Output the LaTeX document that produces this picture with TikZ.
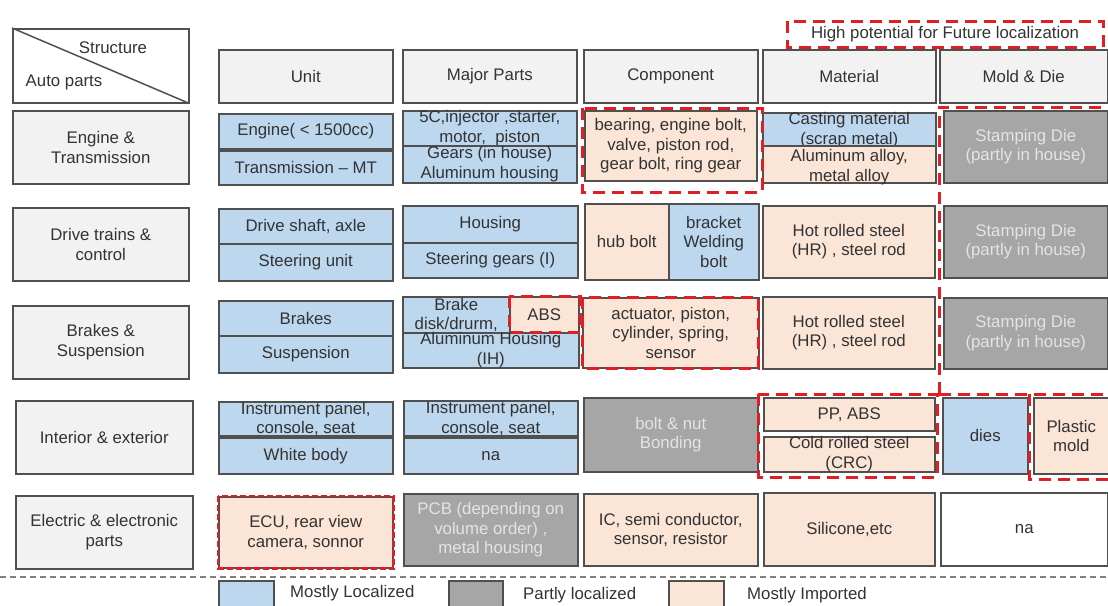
\documentclass[tikz,border=0pt]{standalone}
\usepackage{fontspec}
\setmainfont{Liberation Sans}
\definecolor{boxline}{HTML}{505050}
\definecolor{txt}{HTML}{333333}
\definecolor{hdrfill}{HTML}{F2F2F2}
\definecolor{locfill}{HTML}{BDD7EE}
\definecolor{impfill}{HTML}{FBE5D6}
\definecolor{partfill}{HTML}{A6A6A6}
\definecolor{parttxt}{HTML}{E4E4E4}
\definecolor{hpred}{RGB}{225,30,35}
\definecolor{sepgray}{HTML}{808080}
% one table cell: style, left, top, right, bottom (in px), name; the text follows
\newcommand\cellbox[6]{\node[#1,minimum width={(#4-#2)*1pt},minimum height={(#5-#3)*1pt}] (#6) at (#2,#3)}
\begin{document}
\begin{tikzpicture}[x=1pt,y=-1pt,
  cellbase/.style={draw=boxline, line width=1.5pt, inner sep=0pt, align=center,
    text=txt, font=\fontsize{16.8pt}{19.5pt}\selectfont, anchor=north west},
  hdr/.style={cellbase, fill=hdrfill},
  loc/.style={cellbase, fill=locfill},
  imp/.style={cellbase, fill=impfill},
  part/.style={cellbase, fill=partfill, text=parttxt},
  plain/.style={cellbase, fill=white},
  txtonly/.style={inner sep=0pt, text=txt, align=center, font=\fontsize{16.8pt}{19.5pt}\selectfont},
  hp/.style={draw=hpred, line width=3pt, dash pattern=on 12pt off 7pt},
  hpthin/.style={draw=hpred, line width=2.2pt, dash pattern=on 6pt off 3pt},
  sep/.style={draw=sepgray, line width=1.5pt, dash pattern=on 6pt off 4pt},
]
\useasboundingbox (0,0) rectangle (1108,605);
\clip (0,0) rectangle (1108,605);

% ---- header row ----
\cellbox{plain}{12}{28}{188}{102}{corner} {};
\draw[boxline, line width=1.5pt] (corner.north west) -- (corner.south east);
\node[txtonly] (structure) at (113,48) {Structure};
\node[txtonly] (autoparts) at (64,82) {Auto parts};
\cellbox{hdr}{218}{49}{392}{102}{hunit} {Unit};
\cellbox{hdr}{402}{49}{576}{102}{hmajor} {Major Parts};
\cellbox{hdr}{583}{49}{757}{102}{hcomp} {Component};
\cellbox{hdr}{762}{49}{935}{102}{hmat} {Material};
\cellbox{hdr}{939}{49}{1107}{102}{hmold} {Mold \& Die};
\node[txtonly] (hptext) at (945,34) {High potential for Future localization};

% ---- engine & transmission ----
\cellbox{hdr}{12}{110}{188}{183}{lab1} {Engine \&\\Transmission};
\cellbox{loc}{218}{113}{392}{148}{u1a} {Engine( < 1500cc)};
\cellbox{loc}{218}{150}{392}{184}{u1b} {Transmission -- MT};
\cellbox{loc}{402}{110}{576}{145}{m1a} {5C,injector ,starter,\\motor,\ \ piston};
\cellbox{loc}{402}{145}{576}{182}{m1b} {Gears (in house)\\Aluminum housing};
\cellbox{imp}{584}{110}{756}{180}{c1} {bearing, engine bolt,\\valve, piston rod,\\gear bolt, ring gear};
\cellbox{loc}{762}{112}{935}{145}{t1a} {Casting material\\(scrap metal)};
\cellbox{imp}{762}{145}{935}{182}{t1b} {};
\node[txtonly, yshift=-3pt] (t1btext) at (t1b.center) {Aluminum alloy,\\metal alloy};
\cellbox{part}{943}{110}{1107}{182}{d1} {Stamping Die\\(partly in house)};

% ---- drive trains & control ----
\cellbox{hdr}{12}{207}{188}{280}{lab2} {Drive trains \&\\control};
\cellbox{loc}{218}{208}{392}{243}{u2a} {Drive shaft, axle};
\cellbox{loc}{218}{243}{392}{280}{u2b} {Steering unit};
\cellbox{loc}{402}{205}{577}{242}{m2a} {Housing};
\cellbox{loc}{402}{242}{577}{277}{m2b} {Steering gears (I)};
\cellbox{imp}{584}{203}{668}{279}{c2a} {hub bolt};
\cellbox{loc}{668}{203}{758}{279}{c2b} {bracket\\Welding\\bolt};
\cellbox{imp}{762}{205}{934}{277}{t2} {Hot rolled steel\\(HR) , steel rod};
\cellbox{part}{943}{205}{1107}{277}{d2} {Stamping Die\\(partly in house)};

% ---- brakes & suspension ----
\cellbox{hdr}{12}{305}{188}{378}{lab3} {Brakes \&\\Suspension};
\cellbox{loc}{218}{300}{392}{335}{u3a} {Brakes};
\cellbox{loc}{218}{335}{392}{372}{u3b} {Suspension};
\cellbox{loc}{402}{296}{509}{332}{m3a} {Brake\\disk/drurm,};
\cellbox{imp}{509}{296}{578}{332}{m3b} {ABS};
\cellbox{loc}{402}{332}{578}{367}{m3c} {Aluminum Housing\\(IH)};
\cellbox{imp}{582}{297}{758}{367}{c3} {actuator, piston,\\cylinder, spring,\\sensor};
\cellbox{imp}{762}{296}{934}{368}{t3} {Hot rolled steel\\(HR) , steel rod};
\cellbox{part}{943}{297}{1107}{368}{d3} {Stamping Die\\(partly in house)};

% ---- interior & exterior ----
\cellbox{hdr}{15}{400}{192}{473}{lab4} {Interior \& exterior};
\cellbox{loc}{218}{401}{392}{435}{u4a} {Instrument panel,\\console, seat};
\cellbox{loc}{218}{437}{392}{473}{u4b} {White body};
\cellbox{loc}{403}{400}{577}{435}{m4a} {Instrument panel,\\console, seat};
\cellbox{loc}{403}{437}{577}{473}{m4b} {na};
\cellbox{part}{583}{397}{757}{471}{c4} {bolt \& nut\\Bonding};
\cellbox{imp}{763}{397}{934}{430}{t4a} {PP, ABS};
\cellbox{imp}{763}{436}{934}{470}{t4b} {Cold rolled steel\\(CRC)};
\cellbox{loc}{942}{397}{1027}{473}{d4a} {dies};
\cellbox{imp}{1033}{397}{1108}{473}{d4b} {Plastic\\mold};

% ---- electric & electronic parts ----
\cellbox{hdr}{15}{495}{192}{568}{lab5} {Electric \& electronic\\parts};
\cellbox{imp}{218}{496}{392}{567}{u5} {ECU, rear view\\camera, sonnor};
\cellbox{part}{403}{493}{577}{565}{m5} {PCB (depending on\\volume order) ,\\metal housing};
\cellbox{imp}{583}{493}{757}{565}{c5} {IC, semi conductor,\\sensor, resistor};
\cellbox{imp}{763}{492}{934}{565}{t5} {Silicone,etc};
\cellbox{plain}{940}{492}{1107}{565}{d5} {na};

% ---- high potential markings ----
\draw[hp] (787,21) rectangle (1103,47);
\draw[hp] (582,108) rectangle (762,192);
\draw[hp] (939,394) -- (939,107) -- (1112,107);
\draw[hp] (509,296) rectangle (580,332);
\draw[hp] (582,297) rectangle (758,368);
\draw[hp] (758,394) rectangle (937,477);
\draw[hp] (939,394) -- (1112,394);
\draw[hp] (1029,394) -- (1029,479) -- (1112,479);
\draw[hpthin] (u5.north west) rectangle (u5.south east);

% ---- legend ----
\draw[sep] (0,577) -- (1108,577);
\cellbox{loc}{218}{580}{273}{612}{lg1} {};
\node[txtonly, anchor=west] (lg1t) at (290,593) {Mostly Localized};
\cellbox{part}{448}{580}{502}{612}{lg2} {};
\node[txtonly, anchor=west] (lg2t) at (523,595) {Partly localized};
\cellbox{imp}{668}{580}{723}{612}{lg3} {};
\node[txtonly, anchor=west] (lg3t) at (747,595) {Mostly Imported};
\end{tikzpicture}
\end{document}
